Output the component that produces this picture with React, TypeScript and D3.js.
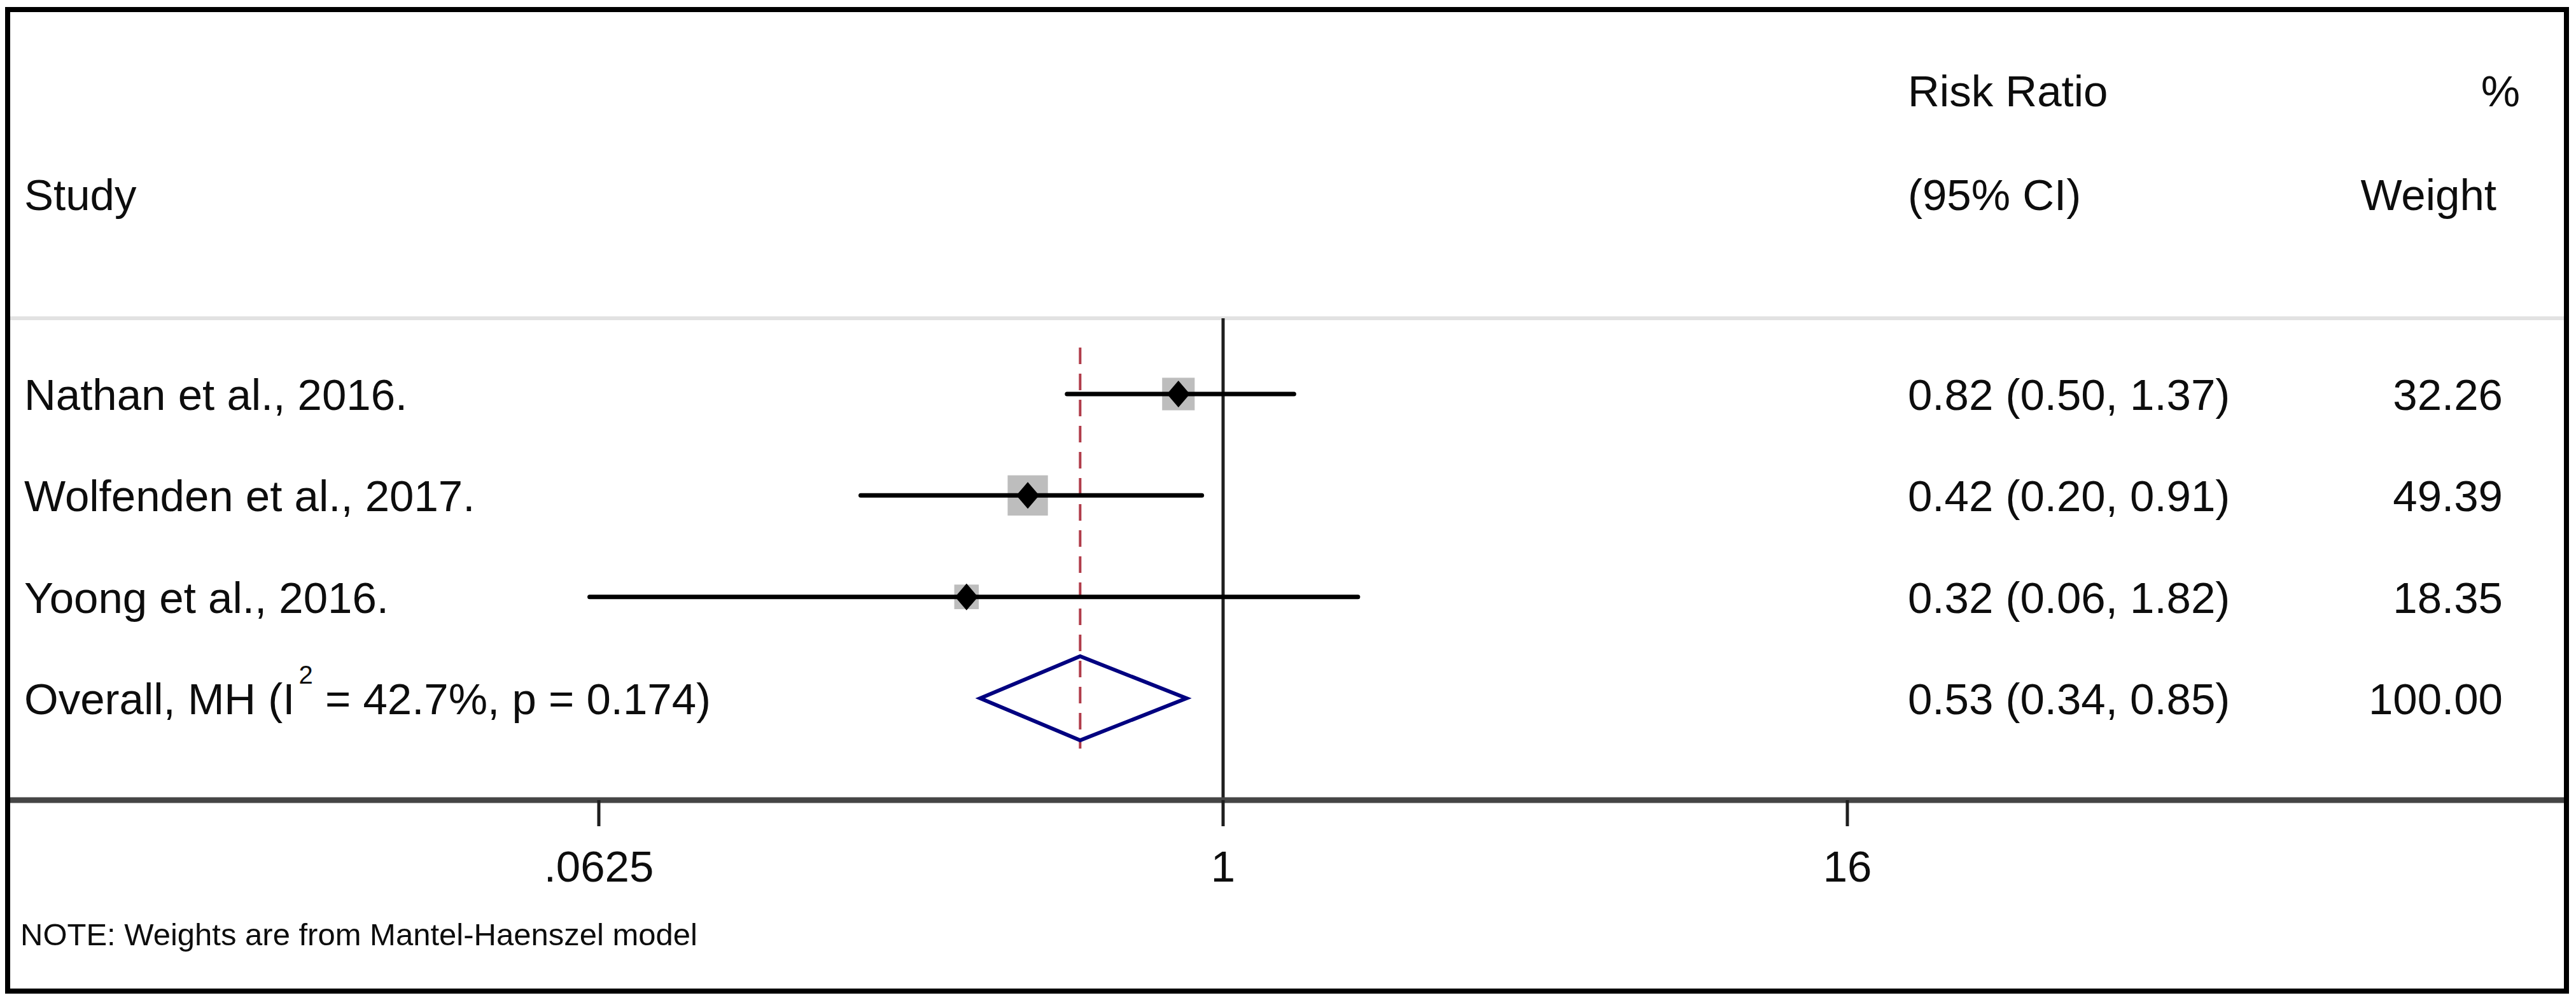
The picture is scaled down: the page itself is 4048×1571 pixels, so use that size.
import React from "react";
import * as d3 from "d3";

const studies = ["Nathan et al., 2016.", "Wolfenden et al., 2017.", "Yoong et al., 2016."];
const riskRatio = [0.82, 0.42, 0.32];
const ciLower = [0.5, 0.2, 0.06];
const ciUpper = [1.37, 0.91, 1.82];
const weights = [32.26, 49.39, 18.35];

const overallRR = 0.53;
const overallLower = 0.34;
const overallUpper = 0.85;
const overallWeight = 100.0;
const overallI2 = "42.7%";
const overallP = "0.174";

const tickValues = [0.0625, 1, 16];
const tickLabels = [".0625", "1", "16"];

const W = 4048;
const H = 1571;
const FONT = "'Liberation Sans', Arial, Helvetica, sans-serif";

export default function App() {
  const x = d3.scaleLog().base(2).domain([0.0625, 16]).range([941, 2903]);
  const rowIdx = [0, 1, 2, 3];
  const y = d3.scalePoint<number>().domain(rowIdx).range([619, 1097]);
  const f2 = d3.format(".2f");
  const fs = 69;
  const axisY = 1257;
  const sepY = 500;
  const textX = 38;
  const ciX = 2998;
  const wX = 3933;
  const ink = "#0d0d0d";
  const base = (i: number) => (y(i) as number) + 25;

  const ovY = y(3) as number;
  const diamond = [
    [x(overallLower), ovY],
    [x(overallRR), ovY - 66],
    [x(overallUpper), ovY],
    [x(overallRR), ovY + 66],
  ];

  return (
    <svg
      width={W}
      height={H}
      style={{ position: "absolute", left: 0, top: 0, background: "#fff" }}
      fontFamily={FONT}
    >
      <rect x={0} y={0} width={W} height={H} fill="#fff" />
      {/* header */}
      <text x={textX} y={330} fontSize={fs} fill={ink}>Study</text>
      <text x={ciX} y={167} fontSize={fs} fill={ink}>Risk Ratio</text>
      <text x={ciX} y={330} fontSize={fs} fill={ink}>(95% CI)</text>
      <text x={3960} y={167} fontSize={fs} fill={ink} textAnchor="end">%</text>
      <text x={3923} y={330} fontSize={fs} fill={ink} textAnchor="end">Weight</text>
      <line x1={12} x2={4032} y1={sepY} y2={sepY} stroke="#e2e2e2" strokeWidth={6} />

      {/* null line */}
      <line x1={x(1)} x2={x(1)} y1={sepY} y2={axisY} stroke="#1e1e1e" strokeWidth={5} />
      {/* overall dashed line */}
      <line
        x1={x(overallRR)}
        x2={x(overallRR)}
        y1={546}
        y2={1176}
        stroke="#b03c4a"
        strokeWidth={4}
        strokeDasharray="26 15"
      />

      {/* study rows */}
      {studies.map((s, i) => {
        const cy = y(i) as number;
        const side = 9 * Math.sqrt(weights[i]);
        const cx = x(riskRatio[i]);
        return (
          <g key={s}>
            <rect x={cx - side / 2} y={cy - side / 2} width={side} height={side} fill="#bdbdbd" />
            <line x1={x(ciLower[i])} x2={x(ciUpper[i])} y1={cy} y2={cy} stroke="#000" strokeWidth={7} strokeLinecap="round" />
            <path
              d={`M${cx - 18},${cy} L${cx},${cy - 21} L${cx + 18},${cy} L${cx},${cy + 21} Z`}
              fill="#000"
            />
            <text x={textX} y={base(i)} fontSize={fs} fill={ink}>{s}</text>
            <text x={ciX} y={base(i)} fontSize={fs} fill={ink}>
              {`${f2(riskRatio[i])} (${f2(ciLower[i])}, ${f2(ciUpper[i])})`}
            </text>
            <text x={wX} y={base(i)} fontSize={fs} fill={ink} textAnchor="end">{f2(weights[i])}</text>
          </g>
        );
      })}

      {/* overall */}
      <path
        d={d3.line()(diamond as [number, number][]) + "Z"}
        fill="none"
        stroke="#000080"
        strokeWidth={6}
        strokeLinejoin="miter"
      />
      <text x={textX} y={base(3)} fontSize={fs} fill={ink}>
        <tspan>Overall, MH (I</tspan>
        <tspan dx={6} dy={-48} fontSize={40}>2</tspan>
        <tspan dy={48}>{` = ${overallI2}, p = ${overallP})`}</tspan>
      </text>
      <text x={ciX} y={base(3)} fontSize={fs} fill={ink}>
        {`${f2(overallRR)} (${f2(overallLower)}, ${f2(overallUpper)})`}
      </text>
      <text x={wX} y={base(3)} fontSize={fs} fill={ink} textAnchor="end">{f2(overallWeight)}</text>

      {/* axis */}
      <line x1={12} x2={4032} y1={axisY} y2={axisY} stroke="#454545" strokeWidth={9} />
      {tickValues.map((t, i) => (
        <g key={t}>
          <line x1={x(t)} x2={x(t)} y1={axisY} y2={1298} stroke="#1e1e1e" strokeWidth={5} />
          <text x={x(t)} y={1385} fontSize={fs} fill={ink} textAnchor="middle">{tickLabels[i]}</text>
        </g>
      ))}

      <text x={32} y={1485} fontSize={49} fill={ink}>NOTE: Weights are from Mantel-Haenszel model</text>

      {/* outer border */}
      <rect x={12} y={15} width={4021} height={1542} fill="none" stroke="#000" strokeWidth={8} />
    </svg>
  );
}
